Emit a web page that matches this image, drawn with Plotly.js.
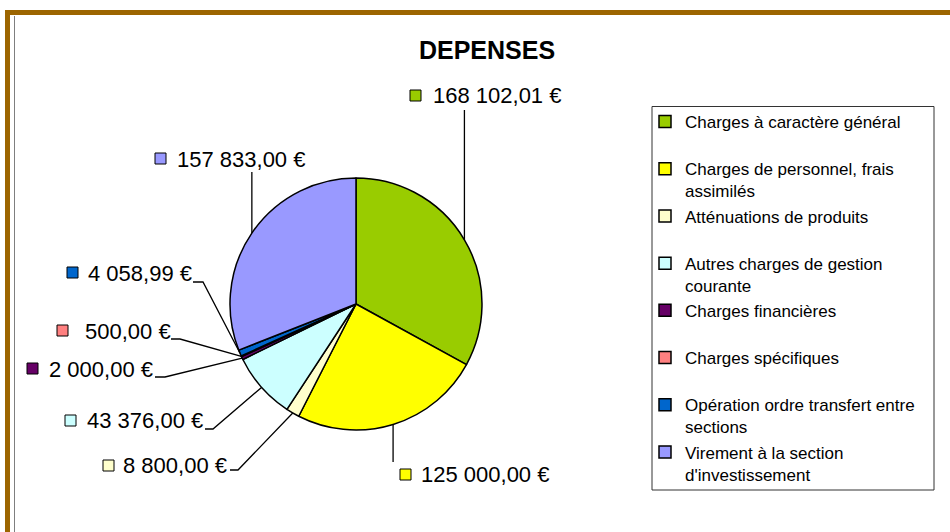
<!DOCTYPE html>
<html>
<head>
<meta charset="utf-8">
<script src="https://cdn.plot.ly/plotly-3.0.1.min.js"></script>
<style>
html,body{margin:0;padding:0;background:#ffffff;}
#chart{width:950px;height:532px;}
</style>
</head>
<body>
<div id="chart"></div>
<script>
// ---------- DATA ----------
const categories = [
  "Charges à caractère général",
  "Charges de personnel, frais assimilés",
  "Atténuations de produits",
  "Autres charges de gestion courante",
  "Charges financières",
  "Charges spécifiques",
  "Opération ordre transfert entre sections",
  "Virement à la section d'investissement"
];
const amounts = [168102.01, 125000.00, 8800.00, 43376.00, 2000.00, 500.00, 4058.99, 157833.00];
const valueLabels = [
  "168 102,01 €", "125 000,00 €", "8 800,00 €", "43 376,00 €",
  "2 000,00 €", "500,00 €", "4 058,99 €", "157 833,00 €"
];
// legend label wrapping (as in the original legend)
const legendLines = [
  ["Charges à caractère général"],
  ["Charges de personnel, frais", "assimilés"],
  ["Atténuations de produits"],
  ["Autres charges de gestion", "courante"],
  ["Charges financières"],
  ["Charges spécifiques"],
  ["Opération ordre transfert entre", "sections"],
  ["Virement à la section", "d'investissement"]
];
const sliceColors = ["#99CC00", "#FFFF00", "#FFFFCC", "#CCFFFF", "#660066", "#FF8080", "#0066CC", "#9999FF"];
const chartTitle = "DEPENSES";

// ---------- LAYOUT (pixel geometry) ----------
const W = 950, H = 532;
const px = x => x / W;
const py = y => 1 - y / H;
const pie = {cx: 356, cy: 304, r: 126};
// label placement: swatch top-left, text left / centre, leader route
const labelPlace = [
  {sw: [410, 90],  tx: 433, ty: 95.5, vert: 110},
  {sw: [400, 469], tx: 421, ty: 474,  vert: 462},
  {sw: [103, 460], tx: 123, ty: 465,  route: [[238, 470], [230, 470]]},
  {sw: [65, 415],  tx: 87,  ty: 420,  route: [[213, 429], [205, 429]]},
  {sw: [27, 363],  tx: 49,  ty: 369,  route: [[165, 377], [155, 377]]},
  {sw: [57, 325],  tx: 85,  ty: 331,  route: [[180, 339], [171, 339]]},
  {sw: [67, 267],  tx: 88,  ty: 273,  route: [[203, 282], [193, 282]]},
  {sw: [155, 153], tx: 177, ty: 159.5, vert: 172}
];
const SW = 11;
const FONT = "Liberation Sans, Arial, sans-serif";

// ---------- BUILD ----------
const total = amounts.reduce((a, b) => a + b, 0);
let cum = 0;
const midAngles = amounts.map(v => { const m = cum + v / 2; cum += v; return m / total * 2 * Math.PI; });
const edgePts = midAngles.map(a => [pie.cx + pie.r * Math.sin(a), pie.cy - pie.r * Math.cos(a)]);

const legendText = legendLines.map(l => l.length === 1 ? l[0] + "<br> " : l.join("<br>"));

const trace = {
  type: "pie",
  labels: legendText,
  values: amounts,
  sort: false,
  direction: "clockwise",
  rotation: 0,
  marker: {colors: sliceColors, line: {color: "#000000", width: 1.5}},
  textinfo: "none",
  textposition: "none",
  hoverinfo: "label+value",
  domain: {x: [px(pie.cx - pie.r), px(pie.cx + pie.r)], y: [py(pie.cy + pie.r), py(pie.cy - pie.r)]},
  showlegend: true
};

const shapes = [];
const annotations = [];

// frame
shapes.push({type: "rect", xref: "paper", yref: "paper", x0: px(5), x1: px(950), y0: py(15), y1: py(10),
  fillcolor: "#9C6500", line: {width: 0}, layer: "below"});
shapes.push({type: "rect", xref: "paper", yref: "paper", x0: px(5), x1: px(10), y0: py(532), y1: py(10),
  fillcolor: "#9C6500", line: {width: 0}, layer: "below"});
shapes.push({type: "line", xref: "paper", yref: "paper", x0: px(14.5), x1: px(14.5), y0: py(16), y1: py(532),
  line: {color: "#7F7F7F", width: 1}});
// legend box
shapes.push({type: "rect", xref: "paper", yref: "paper", x0: px(652), x1: px(934), y0: py(490), y1: py(106.5),
  fillcolor: "rgba(0,0,0,0)", line: {color: "#333333", width: 1}});

labelPlace.forEach((p, i) => {
  const e = edgePts[i];
  let d;
  if (p.vert !== undefined) {
    d = `M${px(e[0])},${py(e[1])} L${px(e[0])},${py(p.vert)}`;
  } else {
    d = `M${px(e[0])},${py(e[1])}` + p.route.map(q => ` L${px(q[0])},${py(q[1])}`).join("");
  }
  shapes.push({type: "path", xref: "paper", yref: "paper", path: d, line: {color: "#000000", width: 1.3}});
  shapes.push({type: "rect", xref: "paper", yref: "paper",
    x0: px(p.sw[0]), x1: px(p.sw[0] + SW), y0: py(p.sw[1] + SW), y1: py(p.sw[1]),
    fillcolor: sliceColors[i], line: {color: "#000000", width: 1}});
  annotations.push({xref: "paper", yref: "paper", x: px(p.tx), y: py(p.ty), xanchor: "left", yanchor: "middle",
    text: valueLabels[i], showarrow: false, borderpad: 0, borderwidth: 0,
    font: {family: FONT, size: 22, color: "#000000"}});
});

const layout = {
  width: W, height: H,
  margin: {l: 0, r: 0, t: 0, b: 0, pad: 0},
  paper_bgcolor: "#ffffff",
  plot_bgcolor: "#ffffff",
  title: {text: "<b>" + chartTitle + "</b>", x: px(487), xanchor: "center", xref: "paper",
    y: py(50), yanchor: "middle", yref: "paper",
    font: {family: FONT, size: 25, color: "#000000"}},
  showlegend: true,
  legend: {x: px(645), y: py(104), xanchor: "left", yanchor: "top",
    bgcolor: "rgba(0,0,0,0)", borderwidth: 0, valign: "top", traceorder: "normal",
    font: {family: FONT, size: 17, color: "#000000"}},
  shapes: shapes,
  annotations: annotations
};

Plotly.newPlot("chart", [trace], layout, {displayModeBar: false, staticPlot: true});
</script>
</body>
</html>
